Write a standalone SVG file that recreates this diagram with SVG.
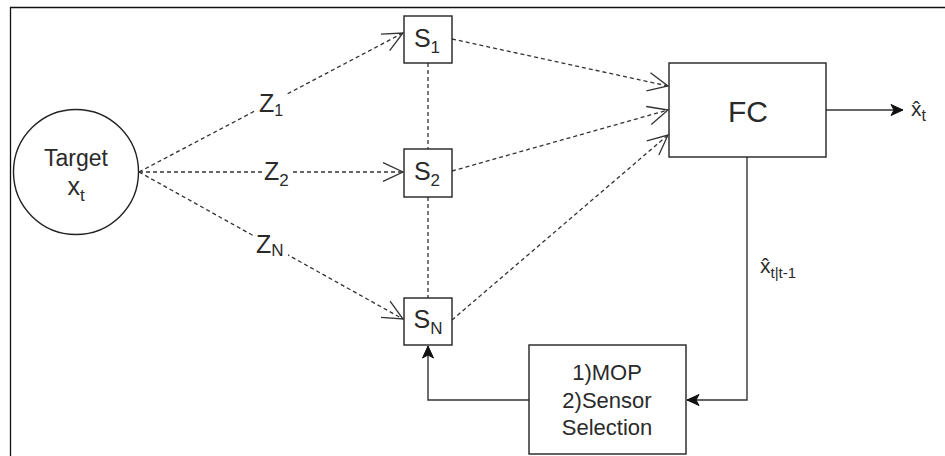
<svg xmlns="http://www.w3.org/2000/svg" width="945" height="456" viewBox="0 0 945 456">
  <defs>
    <style>
      .box { fill: #fff; stroke: #222; stroke-width: 1.4; }
      .lbl { font-family: "Liberation Sans", Arial, sans-serif; fill: #2a2a2a; }
      .dash { fill: none; stroke: #333; stroke-width: 1.3; stroke-dasharray: 4 3; }
      .solid { fill: none; stroke: #333; stroke-width: 1.4; }
    </style>
    <marker id="open" markerUnits="userSpaceOnUse" markerWidth="24" markerHeight="24" refX="20" refY="10" orient="auto" overflow="visible">
      <path d="M0,0.7 L20,10 L0,19.3" fill="none" stroke="#333" stroke-width="1.3"/>
    </marker>
    <marker id="fill" markerUnits="userSpaceOnUse" markerWidth="16" markerHeight="14" refX="12" refY="6" orient="auto" overflow="visible">
      <path d="M0,0.5 L12,6 L0,11.5 L3,6 Z" fill="#111" stroke="#111" stroke-width="1"/>
    </marker>
  </defs>
  <rect x="0" y="0" width="945" height="456" fill="#fff"/>
  <path d="M10.5,456 V7.5 H945" fill="none" stroke="#111" stroke-width="1.3"/>

  <g id="connectors">
    <path class="dash" d="M139,172 L403,33" marker-end="url(#open)"/>
    <path class="dash" d="M139,172 L403,172" marker-end="url(#open)"/>
    <path class="dash" d="M139,172 L403,319" marker-end="url(#open)"/>
    <path class="dash" d="M428,63 V149"/>
    <path class="dash" d="M428,197 V298"/>
    <path class="dash" d="M452,39 L668,86" marker-end="url(#open)"/>
    <path class="dash" d="M452,171 L668,110" marker-end="url(#open)"/>
    <path class="dash" d="M452,320 L668,135" marker-end="url(#open)"/>
    <path class="solid" d="M826,110 H903" marker-end="url(#fill)"/>
    <path class="solid" d="M747,157 V400 H687" marker-end="url(#fill)"/>
    <path class="solid" d="M529,400 H428 V346" marker-end="url(#fill)"/>
  </g>

  <g id="edge-labels">
    <g id="label-z1">
      <rect x="256" y="92" width="31" height="27" fill="#fff"/>
      <text class="lbl" x="259" y="112" font-size="25">Z<tspan font-size="16" dy="4">1</tspan></text>
    </g>
    <g id="label-z2">
      <rect x="262" y="158" width="31" height="30" fill="#fff"/>
      <text class="lbl" x="264" y="180" font-size="25">Z<tspan font-size="17" dy="6">2</tspan></text>
    </g>
    <g id="label-zn">
      <rect x="255" y="232" width="33" height="26" fill="#fff"/>
      <text class="lbl" x="256" y="253" font-size="25">Z<tspan font-size="17" dy="3">N</tspan></text>
    </g>
    <text class="lbl" x="760" y="273" font-size="21">x̂<tspan font-size="15" dy="5">t|t-1</tspan></text>
    <text class="lbl" x="911" y="116" font-size="21">x̂<tspan font-size="16" dy="5">t</tspan></text>
  </g>

  <g id="target">
    <circle class="box" cx="76" cy="172" r="62.5"/>
    <text class="lbl" x="76" y="166" font-size="23" text-anchor="middle">Target</text>
    <text class="lbl" x="76" y="195" font-size="25" text-anchor="middle">x<tspan font-size="17" dy="6">t</tspan></text>
  </g>

  <g id="s1">
    <rect class="box" x="404" y="16" width="48" height="47"/>
    <text class="lbl" x="427" y="47" font-size="25" text-anchor="middle">S<tspan font-size="17" dy="6">1</tspan></text>
  </g>
  <g id="s2">
    <rect class="box" x="404" y="149" width="48" height="48"/>
    <text class="lbl" x="427" y="180" font-size="25" text-anchor="middle">S<tspan font-size="17" dy="6">2</tspan></text>
  </g>
  <g id="sn">
    <rect class="box" x="404" y="298" width="48" height="47"/>
    <text class="lbl" x="428" y="328" font-size="25" text-anchor="middle">S<tspan font-size="17" dy="6">N</tspan></text>
  </g>

  <g id="fc">
    <rect class="box" x="669" y="63" width="157" height="94"/>
    <text class="lbl" x="748" y="122" font-size="30" text-anchor="middle">FC</text>
  </g>

  <g id="mop">
    <rect class="box" x="529" y="345" width="157" height="109"/>
    <text class="lbl" x="607" y="380" font-size="22" text-anchor="middle">1)MOP</text>
    <text class="lbl" x="607" y="408" font-size="22" text-anchor="middle">2)Sensor</text>
    <text class="lbl" x="607" y="435" font-size="22" text-anchor="middle">Selection</text>
  </g>
</svg>
